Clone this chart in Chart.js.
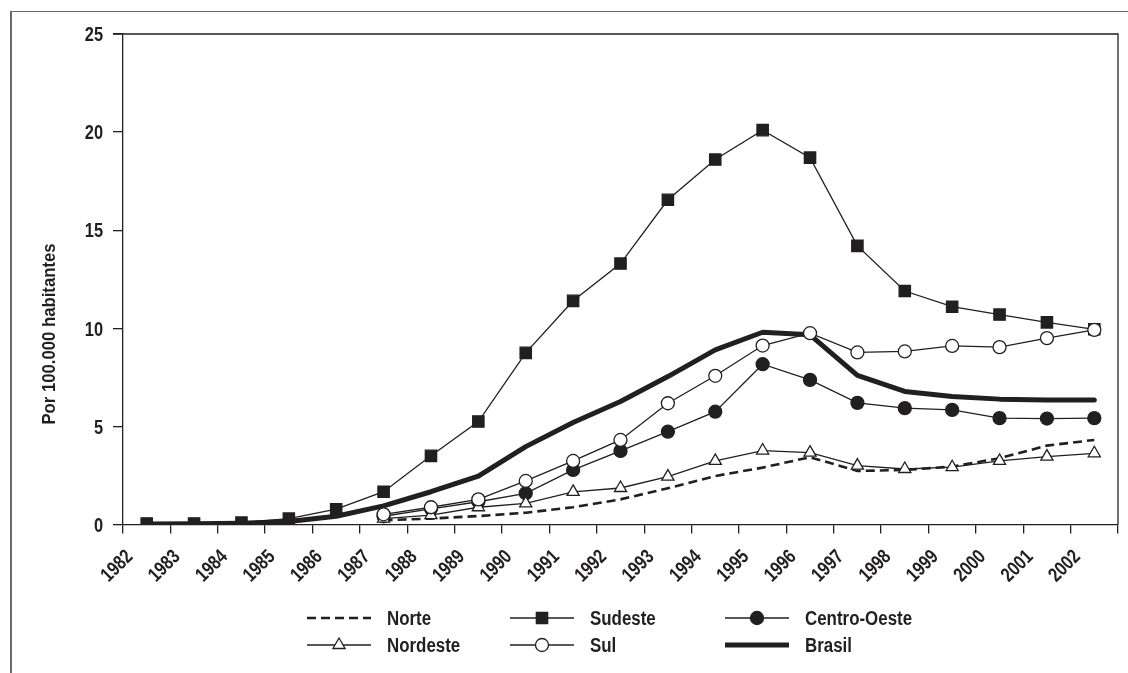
<!DOCTYPE html>
<html>
<head>
<meta charset="utf-8">
<script src="https://cdn.jsdelivr.net/npm/chart.js@4/dist/chart.umd.min.js"></script>
<style>
  html, body { margin: 0; padding: 0; background: #fff; }
  #wrap { position: relative; width: 1128px; height: 673px; }
  #frame { position: absolute; left: 10px; top: 11px; right: 0; bottom: 0;
           border-top: 1.5px solid #6b6b6b; border-left: 2px solid #6b6b6b; }
  canvas { position: absolute; left: 0; top: 0; }
</style>
</head>
<body>
<div id="wrap">
  <div id="frame"></div>
  <canvas id="c" width="1128" height="673"></canvas>
</div>
<script>
const years = ['1982','1983','1984','1985','1986','1987','1988','1989','1990','1991','1992',
               '1993','1994','1995','1996','1997','1998','1999','2000','2001','2002'];
const yTicks = [0, 5, 10, 15, 20, 25];
const yTitle = 'Por 100.000 habitantes';

const norte       = [null,null,null,null,null,0.22,0.3,0.43,0.6,0.88,1.28,1.85,2.47,2.9,3.43,2.73,2.78,2.95,3.38,4.02,4.31];
const sudeste     = [0.05,0.05,0.1,0.3,0.78,1.67,3.5,5.25,8.75,11.4,13.3,16.55,18.6,20.1,18.7,14.2,11.9,11.1,10.7,10.3,9.95];
const centroOeste = [null,null,null,null,null,0.42,0.8,1.16,1.59,2.78,3.75,4.73,5.75,8.17,7.37,6.2,5.93,5.84,5.42,5.4,5.42];
const nordeste    = [null,null,null,null,null,0.3,0.48,0.88,1.08,1.66,1.86,2.44,3.24,3.77,3.66,3.0,2.83,2.92,3.24,3.46,3.63];
const sul         = [null,null,null,null,null,0.52,0.88,1.28,2.22,3.24,4.31,6.18,7.58,9.12,9.75,8.77,8.82,9.1,9.04,9.5,9.92];
const brasil      = [0.03,0.04,0.07,0.15,0.42,0.95,1.67,2.47,3.97,5.2,6.27,7.54,8.9,9.8,9.67,7.6,6.78,6.52,6.39,6.35,6.35];

const INK = '#231f20';
const FONT = '"Liberation Sans", Arial, sans-serif';

const base = { borderColor: INK, borderWidth: 1.3, tension: 0, spanGaps: false,
               pointBorderColor: INK, pointBorderWidth: 1.3, pointHoverRadius: 0 };

const datasets = [
  Object.assign({}, base, { label: 'Sul', data: sul, order: 1, pointStyle: 'circle', pointRadius: 6.5, pointBackgroundColor: '#fff' }),
  Object.assign({}, base, { label: 'Nordeste', data: nordeste, order: 2, pointStyle: 'triangle', pointRadius: 7, pointBackgroundColor: '#fff' }),
  Object.assign({}, base, { label: 'Centro-Oeste', data: centroOeste, order: 3, pointStyle: 'circle', pointRadius: 6.5, pointBackgroundColor: INK }),
  Object.assign({}, base, { label: 'Sudeste', data: sudeste, order: 4, pointStyle: 'rect', pointRadius: 8, pointBackgroundColor: INK }),
  Object.assign({}, base, { label: 'Brasil', data: brasil, order: 5, borderWidth: 5, pointRadius: 0, borderCapStyle: 'round', borderJoinStyle: 'round' }),
  Object.assign({}, base, { label: 'Norte', data: norte, order: 6, borderWidth: 2.6, borderDash: [9, 5], pointRadius: 0 })
];

const legendSlots = [
  ['Norte', 307, 618], ['Nordeste', 307, 645],
  ['Sudeste', 510, 618], ['Sul', 510, 645],
  ['Centro-Oeste', 725, 618], ['Brasil', 725, 645]
];

// narrow text helper: horizontally condensed bold text
function narrowText(ctx, text, x, y, size, sx, align, angle) {
  ctx.save();
  ctx.translate(x, y);
  if (angle) ctx.rotate(angle);
  ctx.scale(sx, 1);
  ctx.font = 'bold ' + size + 'px ' + FONT;
  ctx.textAlign = align;
  ctx.textBaseline = 'alphabetic';
  ctx.fillText(text, 0, size * 0.36);
  ctx.restore();
}

const extras = {
  id: 'extras',
  afterDraw(chart) {
    const ctx = chart.ctx, a = chart.chartArea;
    const xs = chart.scales.x, ys = chart.scales.y;
    ctx.save();
    ctx.strokeStyle = INK; ctx.lineWidth = 1.3;
    ctx.beginPath();
    ctx.moveTo(a.left - 10, a.top); ctx.lineTo(a.right, a.top); ctx.lineTo(a.right, a.bottom);
    ctx.stroke();
    ctx.fillStyle = INK;
    // y tick labels
    yTicks.forEach(v => narrowText(ctx, String(v), a.left - 20, ys.getPixelForValue(v), 20, 0.82, 'right', 0));
    // x tick labels (rotated)
    years.forEach((lab, i) => narrowText(ctx, lab, xs.getPixelForValue(i) - 18, a.bottom + 28, 20, 0.8, 'right', -Math.PI / 4));
    // y title
    narrowText(ctx, yTitle, 48, 334, 19, 0.88, 'center', -Math.PI / 2);
    // legend
    const sw = 64;
    legendSlots.forEach(([name, x, y]) => {
      const ds = chart.data.datasets.find(d => d.label === name);
      ctx.strokeStyle = INK;
      ctx.lineWidth = ds.borderWidth;
      ctx.setLineDash(ds.borderDash || []);
      ctx.beginPath(); ctx.moveTo(x, y); ctx.lineTo(x + sw, y); ctx.stroke();
      ctx.setLineDash([]);
      if (ds.pointRadius > 0) {
        ctx.fillStyle = ds.pointBackgroundColor;
        ctx.lineWidth = ds.pointBorderWidth;
        Chart.helpers.drawPoint(ctx, { pointStyle: ds.pointStyle, radius: ds.pointRadius, borderWidth: ds.pointBorderWidth, rotation: 0 }, x + sw / 2, y);
      }
      ctx.fillStyle = INK;
      narrowText(ctx, name, x + sw + 16, y, 20, 0.845, 'left', 0);
    });
    ctx.restore();
  }
};

new Chart(document.getElementById('c'), {
  type: 'line',
  data: { labels: years, datasets },
  options: {
    responsive: false, animation: false,
    layout: { padding: { left: 0, top: 34, right: 10, bottom: 0 } },
    plugins: { legend: { display: false }, tooltip: { enabled: false } },
    scales: {
      x: {
        offset: true,
        grid: { offset: true, drawOnChartArea: false, drawTicks: true, tickLength: 9, color: INK, lineWidth: 1.3 },
        border: { color: INK, width: 1.3 },
        ticks: { display: false, autoSkip: false },
        afterFit(s) { s.height = 148.5; }
      },
      y: {
        min: 0, max: 25,
        afterBuildTicks(s) { s.ticks = yTicks.map(v => ({ value: v })); },
        grid: { drawOnChartArea: false, drawTicks: true, tickLength: 10, color: INK, lineWidth: 1.3 },
        border: { color: INK, width: 1.3 },
        ticks: { display: false },
        afterFit(s) { s.width = 123; }
      }
    }
  },
  plugins: [extras]
});
</script>
</body>
</html>
